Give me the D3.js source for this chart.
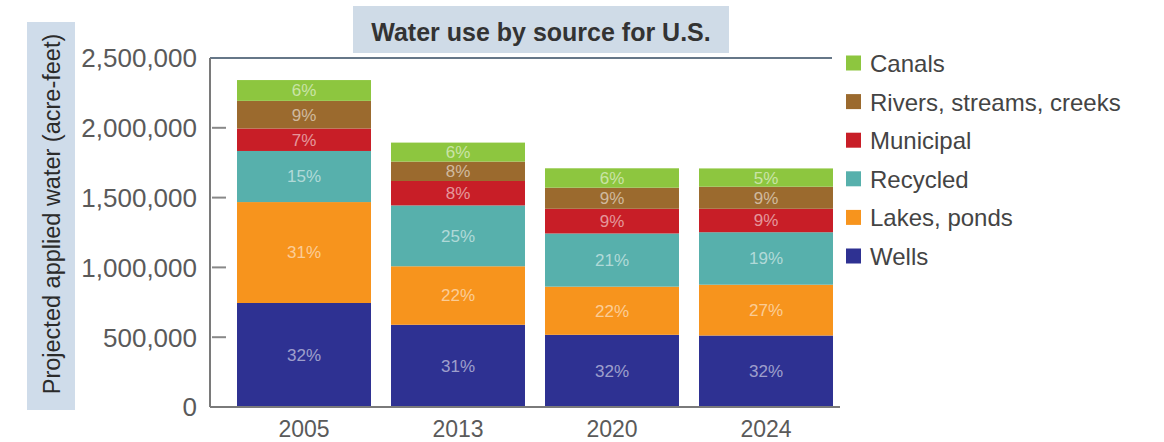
<!DOCTYPE html>
<html>
<head>
<meta charset="UTF-8">
<title>Water use by source for U.S.</title>
<script src="https://cdn.jsdelivr.net/npm/d3@7"></script>
<style>
  body { margin: 0; background: #fff; }
  svg { display: block; font-family: "Liberation Sans", Arial, sans-serif; }
  .tick-label { font-size: 26px; fill: #5a5a5a; }
  .year-label { font-size: 23px; fill: #5a5a5a; }
  .pct { font-size: 17px; fill: #fff; fill-opacity: 0.55; }
  .legend-text { font-size: 24px; fill: #444; }
</style>
</head>
<body>
<svg width="1164" height="442"></svg>
<script>
// values, acre-feet
var years = ["2005", "2013", "2020", "2024"];
var sources = ["Wells", "Lakes, ponds", "Recycled", "Municipal", "Rivers, streams, creeks", "Canals"];
var colors = ["#2e3192", "#f7941d", "#57b0ac", "#c81e27", "#9b6a2e", "#8dc63f"];

var wells     = [745000, 589000, 517000, 512000];
var lakes     = [723000, 419000, 345000, 364000];
var recycled  = [366000, 436000, 381000, 376000];
var municipal = [161000, 175000, 177000, 168000];
var rivers    = [198000, 139000, 151000, 158000];
var canals    = [149000, 136000, 139000, 131000];

// percentage labels as printed on the bars
var wellsPct     = ["32%", "31%", "32%", "32%"];
var lakesPct     = ["31%", "22%", "22%", "27%"];
var recycledPct  = ["15%", "25%", "21%", "19%"];
var municipalPct = ["7%", "8%", "9%", "9%"];
var riversPct    = ["9%", "8%", "9%", "9%"];
var canalsPct    = ["6%", "6%", "6%", "5%"];

var yTicks = [0, 500000, 1000000, 1500000, 2000000, 2500000];

var series = [wells, lakes, recycled, municipal, rivers, canals];
var labels = [wellsPct, lakesPct, recycledPct, municipalPct, riversPct, canalsPct];

var rows = years.map(function (yr, i) {
    var r = { year: yr };
    sources.forEach(function (s, j) { r[s] = series[j][i]; });
    return r;
});

var svg = d3.select("svg");
var axisX = 210, plotTop = 58, plotBottom = 407;

var x = d3.scaleBand().domain(years).range([227, 843]).paddingInner(0.13).paddingOuter(0.065);
var y = d3.scaleLinear().domain([0, 2500000]).range([plotBottom, plotTop]);
var color = d3.scaleOrdinal().domain(sources).range(colors);

var stacked = d3.stack().keys(sources)(rows);

// y label box
svg.append("rect")
    .attr("x", 27).attr("y", 22).attr("width", 48).attr("height", 388)
    .attr("fill", "#cfdcea");
svg.append("text")
    .attr("transform", "translate(52,214) rotate(-90)")
    .attr("text-anchor", "middle")
    .attr("dy", "0.35em")
    .style("font-size", "23.5px")
    .style("fill", "#2b2b2b")
    .text("Projected applied water (acre-feet)");

// stacked bars
var layer = svg.selectAll(".layer")
    .data(stacked)
    .enter().append("g")
    .attr("class", "layer")
    .attr("fill", function (d) { return color(d.key); });

layer.selectAll("rect")
    .data(function (d) { return d; })
    .enter().append("rect")
    .attr("x", function (d) { return x(d.data.year); })
    .attr("y", function (d) { return y(d[1]); })
    .attr("width", x.bandwidth())
    .attr("height", function (d) { return y(d[0]) - y(d[1]); });

layer.each(function (s, j) {
    d3.select(this).selectAll("text")
        .data(s)
        .enter().append("text")
        .attr("class", "pct")
        .attr("x", function (d) { return x(d.data.year) + x.bandwidth() / 2; })
        .attr("y", function (d) { return (y(d[0]) + y(d[1])) / 2; })
        .attr("dy", "0.35em")
        .attr("text-anchor", "middle")
        .text(function (d, i) { return labels[j][i]; });
});

// frame and axis lines
svg.append("line")
    .attr("x1", axisX).attr("x2", 832).attr("y1", plotTop).attr("y2", plotTop)
    .attr("stroke", "#667788").attr("stroke-width", 2);
svg.append("line")
    .attr("x1", axisX).attr("x2", axisX).attr("y1", plotTop).attr("y2", plotBottom)
    .attr("stroke", "#7a7a7a").attr("stroke-width", 2);
svg.append("line")
    .attr("x1", axisX).attr("x2", 840).attr("y1", plotBottom).attr("y2", plotBottom)
    .attr("stroke", "#7a7a7a").attr("stroke-width", 2);

// y ticks
svg.selectAll(".tickmark")
    .data(yTicks.filter(function (t) { return t > 0 && t < 2500000; }))
    .enter().append("line")
    .attr("class", "tickmark")
    .attr("x1", axisX + 2).attr("x2", axisX + 16)
    .attr("y1", function (d) { return y(d); })
    .attr("y2", function (d) { return y(d); })
    .attr("stroke", "#888").attr("stroke-width", 2);

svg.selectAll(".tick-label")
    .data(yTicks)
    .enter().append("text")
    .attr("class", "tick-label")
    .attr("x", 197)
    .attr("y", function (d) { return y(d); })
    .attr("dy", "0.36em")
    .attr("text-anchor", "end")
    .text(d3.format(","));

// x labels
svg.selectAll(".year-label")
    .data(years)
    .enter().append("text")
    .attr("class", "year-label")
    .attr("x", function (d) { return x(d) + x.bandwidth() / 2; })
    .attr("y", 437)
    .attr("text-anchor", "middle")
    .text(function (d) { return d; });

// title
svg.append("rect")
    .attr("x", 353).attr("y", 6).attr("width", 376).attr("height", 47)
    .attr("fill", "#cfdbe7");
svg.append("text")
    .attr("x", 541).attr("y", 32)
    .attr("dy", "0.35em")
    .attr("text-anchor", "middle")
    .style("font-size", "25px")
    .style("font-weight", "bold")
    .style("fill", "#333")
    .text("Water use by source for U.S.");

// legend, top row is the top of the stack
var legend = svg.selectAll(".legend")
    .data(sources.slice().reverse())
    .enter().append("g")
    .attr("class", "legend")
    .attr("transform", function (d, i) { return "translate(846," + (63.5 + i * 38.6) + ")"; });

legend.append("rect")
    .attr("x", 0).attr("y", -8).attr("width", 15).attr("height", 15)
    .attr("fill", function (d) { return color(d); });

legend.append("text")
    .attr("class", "legend-text")
    .attr("x", 24)
    .attr("dy", "0.35em")
    .text(function (d) { return d; });
</script>
</body>
</html>
